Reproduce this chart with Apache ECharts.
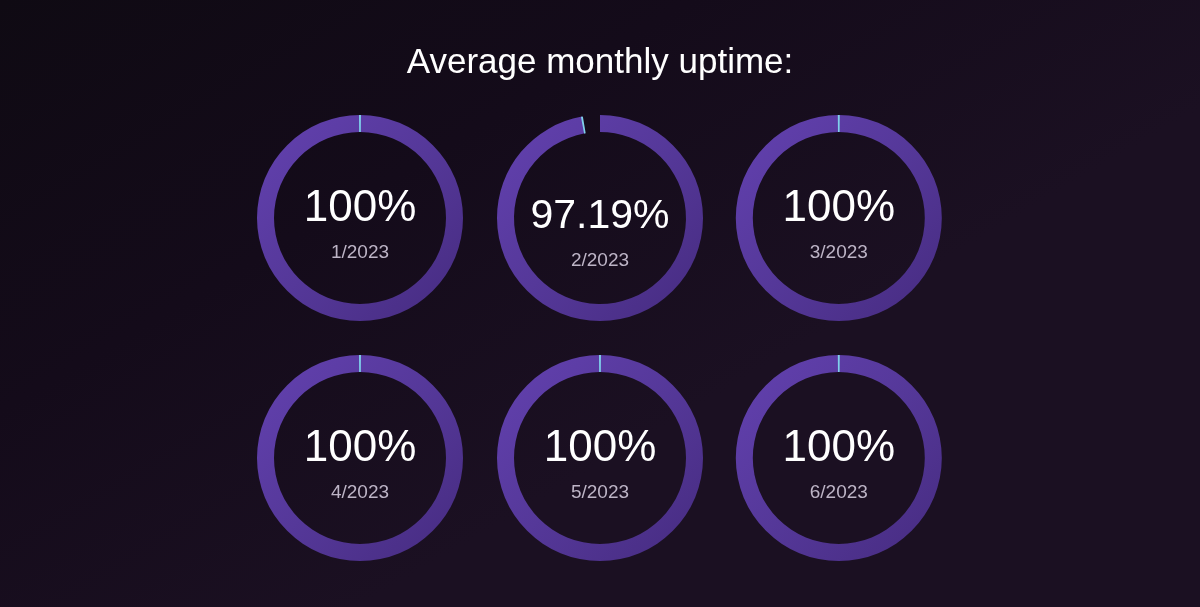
<!DOCTYPE html>
<html>
<head>
<meta charset="utf-8">
<script src="https://cdn.jsdelivr.net/npm/echarts@6/dist/echarts.min.js"></script>
<style>
html,body{margin:0;padding:0;background:#130b19;}
#chart{width:1200px;height:607px;}
</style>
</head>
<body>
<div id="chart"></div>
<script>
const titleText = 'Average monthly uptime:';
const months = ['1/2023', '2/2023', '3/2023', '4/2023', '5/2023', '6/2023'];
const uptime = [100, 97.19, 100, 100, 100, 100];

const centersX = ['30%', '50%', '69.9%'];
const centersY = [218, 458];
const bigFont = [44, 41, 44, 44, 44, 44];
const shiftPad = [5, 22, 5, 5, 5, 5];
const FONT = '"Liberation Sans", Arial, Helvetica, sans-serif';

function fmt(v) {
  return (v === 100 ? '100' : v.toFixed(2)) + '%';
}

const ringColor = {
  type: 'linear', x: 0, y: 0, x2: 1, y2: 1,
  colorStops: [
    { offset: 0, color: '#6341b0' },
    { offset: 0.5, color: '#553899' },
    { offset: 1, color: '#462b80' }
  ]
};

const series = [];
months.forEach((m, i) => {
  const center = [centersX[i % 3], centersY[Math.floor(i / 3)]];
  const v = uptime[i];
  series.push({
    type: 'pie',
    center: center,
    radius: [86, 103],
    startAngle: 90,
    clockwise: true,
    silent: true,
    minAngle: 0,
    avoidLabelOverlap: false,
    labelLine: { show: false },
    data: [
      {
        value: v,
        name: m,
        itemStyle: { color: ringColor },
        label: {
          show: true,
          position: 'center',
          formatter: () => '{v|' + fmt(v) + '}\n{m|' + m + '}',
          rich: {
            v: { fontFamily: FONT, fontSize: bigFont[i], color: '#ffffff', lineHeight: 64 },
            m: { fontFamily: FONT, fontSize: 19, color: '#bdb4c6', lineHeight: 24 }
          },
          padding: [shiftPad[i], 0, 0, 0]
        }
      },
      {
        value: 100 - v,
        name: 'down',
        itemStyle: { color: 'rgba(0,0,0,0)' },
        label: { show: false }
      }
    ]
  });
  // thin cyan marker at the end of the uptime arc
  series.push({
    type: 'pie',
    center: center,
    radius: [86, 103],
    startAngle: 90 - v * 3.6 + 0.55,
    clockwise: true,
    silent: true,
    minAngle: 0,
    label: { show: false },
    labelLine: { show: false },
    data: [
      { value: 0.3, itemStyle: { color: '#7fd0ea' } },
      { value: 99.7, itemStyle: { color: 'rgba(0,0,0,0)' } }
    ]
  });
});

const chart = echarts.init(document.getElementById('chart'));
chart.setOption({
  animation: false,
  backgroundColor: {
    type: 'linear', x: 0, y: 0, x2: 0.3, y2: 1,
    colorStops: [
      { offset: 0, color: '#0f0a13' },
      { offset: 0.5, color: '#140b1a' },
      { offset: 1, color: '#1b1022' }
    ]
  },
  title: {
    text: titleText,
    left: 'center',
    top: 41,
    textStyle: { fontFamily: FONT, fontSize: 35, fontWeight: 'normal', color: '#ffffff' }
  },
  series: series
});
</script>
</body>
</html>
